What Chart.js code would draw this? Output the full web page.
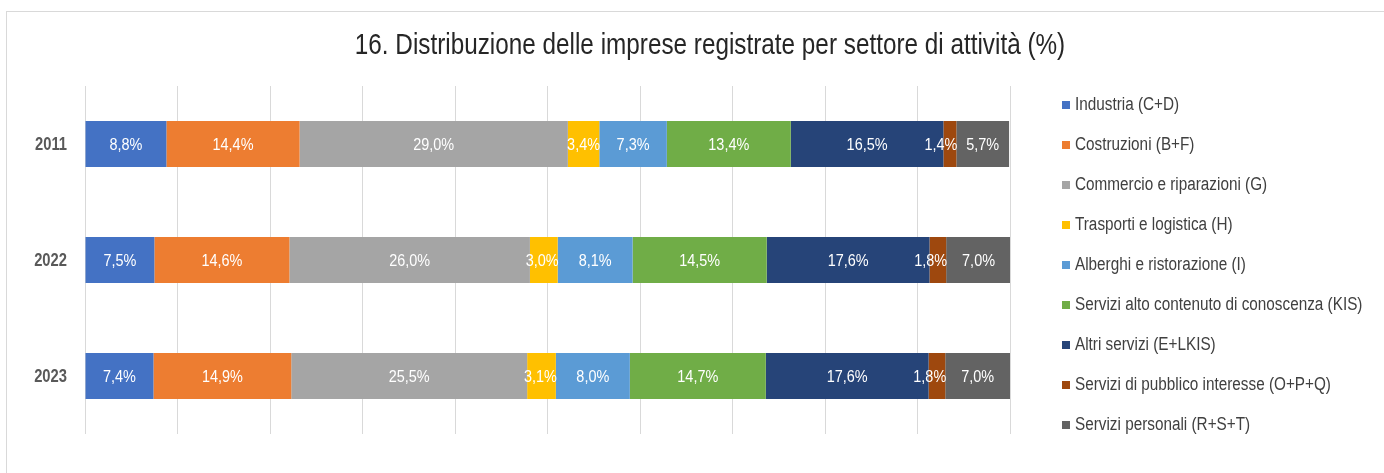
<!DOCTYPE html>
<html>
<head>
<meta charset="utf-8">
<script src="https://cdn.jsdelivr.net/npm/chart.js@4.4.1/dist/chart.umd.min.js"></script>
<style>
  html, body { margin: 0; padding: 0; background: #fff; }
  #wrap { position: relative; width: 1384px; height: 473px; overflow: hidden; }
  #frame { position: absolute; left: 6px; top: 11px; width: 1500px; height: 600px; border: 1px solid #d9d9d9; }
  #c { position: absolute; left: 0; top: 0; }
</style>
</head>
<body>
<div id="wrap">
  <div id="frame"></div>
  <canvas id="c" width="1384" height="473"></canvas>
</div>
<script>
// Arial Narrow is not installed, so Liberation Sans is squeezed horizontally
const FONT = '"Liberation Sans", Arial, sans-serif';

const titleText = '16. Distribuzione delle imprese registrate per settore di attività (%)';
const years = ['2011', '2022', '2023'];
const sectors = [
    'Industria (C+D)',
    'Costruzioni (B+F)',
    'Commercio e riparazioni (G)',
    'Trasporti e logistica (H)',
    'Alberghi e ristorazione (I)',
    'Servizi alto contenuto di conoscenza (KIS)',
    'Altri servizi (E+LKIS)',
    'Servizi di pubblico interesse (O+P+Q)',
    'Servizi personali (R+S+T)'
];
const colors = ['#4472C4', '#ED7D31', '#A5A5A5', '#FFC000', '#5B9BD5', '#70AD47', '#264478', '#9E480E', '#636363'];

// one array per sector: [2011, 2022, 2023]
const industria   = [8.8, 7.5, 7.4];
const costruzioni = [14.4, 14.6, 14.9];
const commercio   = [29.0, 26.0, 25.5];
const trasporti   = [3.4, 3.0, 3.1];
const alberghi    = [7.3, 8.1, 8.0];
const kis         = [13.4, 14.5, 14.7];
const altri       = [16.5, 17.6, 17.6];
const pubblico    = [1.4, 1.8, 1.8];
const personali   = [5.7, 7.0, 7.0];
const values = [industria, costruzioni, commercio, trasporti, alberghi, kis, altri, pubblico, personali];

const fmt = v => v.toFixed(1).replace('.', ',') + '%';

// draws text squeezed by sx around x
function narrowText(ctx, text, x, y, font, sx, align, color) {
    ctx.save();
    ctx.font = font;
    ctx.fillStyle = color;
    ctx.textAlign = align;
    ctx.textBaseline = 'middle';
    ctx.translate(x, y);
    ctx.scale(sx, 1);
    ctx.fillText(text, 0, 0);
    ctx.restore();
}

const extras = {
    id: 'extras',
    afterDatasetsDraw(chart) {
        const ctx = chart.ctx;
        const labelFont = '17px ' + FONT;
        const labelSx = 0.85;
        // bar labels, pushed left when wider than their segment (like Excel)
        chart.data.datasets.forEach((ds, i) => {
            chart.getDatasetMeta(i).data.forEach((el, j) => {
                const txt = fmt(ds.data[j]);
                ctx.font = labelFont;
                const w = ctx.measureText(txt).width * labelSx;
                let x = (el.x + el.base) / 2;
                if (w > el.x - el.base) x = Math.min(x, el.x + 1 - w / 2);
                narrowText(ctx, txt, x, el.y + 1, labelFont, labelSx, 'center', '#ffffff');
            });
        });
        // category labels
        const ys = chart.scales.y;
        years.forEach((yr, i) => {
            narrowText(ctx, yr, 67, ys.getPixelForTick(i) + 1,
                'bold 18px ' + FONT, 0.82, 'right', '#595959');
        });
        // title
        narrowText(ctx, titleText, 710, 46, '30px ' + FONT, 0.81, 'center', '#262626');
        // legend
        chart.data.datasets.forEach((ds, i) => {
            const y = 105 + i * 40;
            ctx.fillStyle = ds.backgroundColor;
            ctx.fillRect(1062, y - 4, 8, 8);
            narrowText(ctx, ds.label, 1075, y, '18px ' + FONT, 0.85, 'left', '#404040');
        });
    }
};

new Chart(document.getElementById('c'), {
    type: 'bar',
    data: {
        labels: years,
        datasets: sectors.map((s, i) => ({
            label: s,
            data: values[i],
            backgroundColor: colors[i],
            borderWidth: 0,
            categoryPercentage: 1,
            barPercentage: 0.397
        }))
    },
    options: {
        indexAxis: 'y',
        responsive: false,
        animation: false,
        layout: { padding: { left: 0, right: 374, top: 86, bottom: 39 } },
        plugins: {
            legend: { display: false },
            title: { display: false },
            tooltip: { enabled: false }
        },
        scales: {
            x: {
                stacked: true,
                min: 0,
                max: 100,
                ticks: { display: false, stepSize: 10 },
                grid: { color: '#d9d9d9', lineWidth: 1, drawTicks: false },
                border: { display: false },
                afterFit: s => { s.height = 0; }
            },
            y: {
                stacked: true,
                grid: { display: false, drawTicks: false },
                border: { display: false },
                ticks: { display: false },
                afterFit: s => { s.width = 85; }
            }
        }
    },
    plugins: [extras]
});
</script>
</body>
</html>
